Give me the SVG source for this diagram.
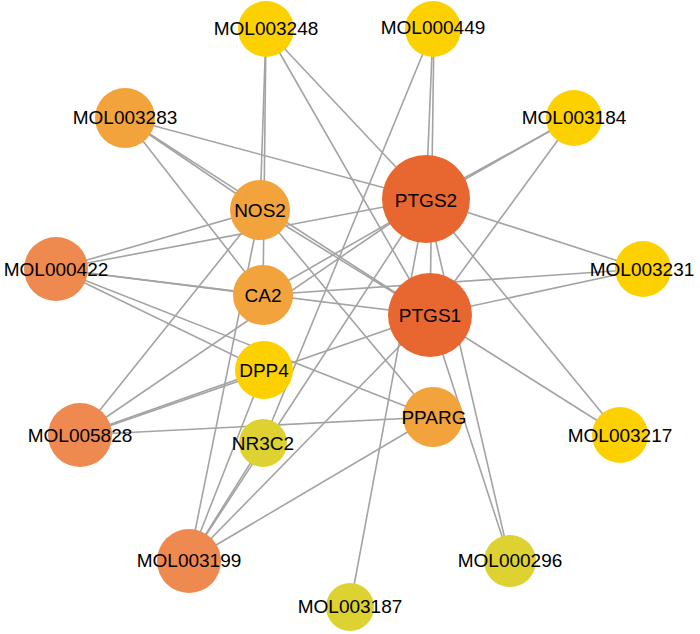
<svg xmlns="http://www.w3.org/2000/svg" width="700" height="634" viewBox="0 0 700 634">
<style>
.e{stroke:#a3a3a3;stroke-width:1.6;fill:none}
text{font-family:"Liberation Sans",Arial,sans-serif;font-size:19px;fill:#000;text-anchor:middle;dominant-baseline:central}
.c1{fill:#e8662f}.c2{fill:#ee8950}.c3{fill:#f3a33c}.c4{fill:#fdd100}.c5{fill:#ddd232}
</style>
<rect width="700" height="634" fill="#fff"/>
<g id="edges">
<line class="e" x1="266" y1="29" x2="260" y2="210"/>
<line class="e" x1="266" y1="29" x2="263" y2="295"/>
<line class="e" x1="266" y1="29" x2="426" y2="199"/>
<line class="e" x1="266" y1="29" x2="430" y2="315"/>
<line class="e" x1="433" y1="29" x2="426" y2="199"/>
<line class="e" x1="434" y1="29" x2="430" y2="315"/>
<line class="e" x1="433" y1="29" x2="263" y2="443"/>
<line class="e" x1="125" y1="118" x2="426" y2="199"/>
<line class="e" x1="125" y1="118" x2="260" y2="210"/>
<line class="e" x1="125" y1="118" x2="263" y2="295"/>
<line class="e" x1="125" y1="118" x2="430" y2="315"/>
<line class="e" x1="574" y1="118" x2="426" y2="199"/>
<line class="e" x1="574" y1="117" x2="263" y2="295"/>
<line class="e" x1="574" y1="118" x2="430" y2="315"/>
<line class="e" x1="643" y1="269" x2="426" y2="199"/>
<line class="e" x1="643" y1="269" x2="430" y2="315"/>
<line class="e" x1="643" y1="269" x2="263" y2="295"/>
<line class="e" x1="620" y1="435" x2="426" y2="199"/>
<line class="e" x1="620" y1="435" x2="430" y2="315"/>
<line class="e" x1="510" y1="561" x2="426" y2="199"/>
<line class="e" x1="510" y1="561" x2="430" y2="315"/>
<line class="e" x1="350" y1="607" x2="426" y2="199"/>
<line class="e" x1="56" y1="269" x2="260" y2="210"/>
<line class="e" x1="56" y1="269" x2="426" y2="199"/>
<line class="e" x1="56" y1="269" x2="263" y2="295"/>
<line class="e" x1="56" y1="269" x2="264" y2="370"/>
<line class="e" x1="56" y1="269" x2="433" y2="417"/>
<line class="e" x1="56" y1="269" x2="430" y2="315"/>
<line class="e" x1="80" y1="435" x2="260" y2="210"/>
<line class="e" x1="80" y1="435" x2="426" y2="199"/>
<line class="e" x1="80" y1="435" x2="264" y2="370"/>
<line class="e" x1="80" y1="436" x2="430" y2="315"/>
<line class="e" x1="80" y1="435" x2="433" y2="417"/>
<line class="e" x1="189" y1="561" x2="260" y2="210"/>
<line class="e" x1="189" y1="561" x2="264" y2="370"/>
<line class="e" x1="189" y1="561" x2="263" y2="443"/>
<line class="e" x1="189" y1="561" x2="426" y2="199"/>
<line class="e" x1="189" y1="561" x2="430" y2="315"/>
<line class="e" x1="189" y1="561" x2="433" y2="417"/>
<line class="e" x1="260" y1="210" x2="433" y2="417"/>
<line class="e" x1="260" y1="210" x2="430" y2="315"/>
</g>
<g id="n_MOL003248"><circle class="c4" cx="266" cy="29" r="28"/><text x="266" y="28">MOL003248</text></g>
<g id="n_MOL000449"><circle class="c4" cx="433" cy="29" r="28"/><text x="433" y="27">MOL000449</text></g>
<g id="n_MOL003283"><circle class="c3" cx="125" cy="118" r="30"/><text x="125" y="117">MOL003283</text></g>
<g id="n_MOL003184"><circle class="c4" cx="574" cy="118" r="28"/><text x="574" y="117">MOL003184</text></g>
<g id="n_NOS2"><circle class="c3" cx="260" cy="210" r="30"/><text x="260" y="210">NOS2</text></g>
<g id="n_PTGS2"><circle class="c1" cx="426" cy="199" r="44"/><text x="426" y="200">PTGS2</text></g>
<g id="n_MOL000422"><circle class="c2" cx="56" cy="269" r="32"/><text x="56" y="269">MOL000422</text></g>
<g id="n_CA2"><circle class="c3" cx="263" cy="295" r="30"/><text x="263" y="295">CA2</text></g>
<g id="n_MOL003231"><circle class="c4" cx="643" cy="269" r="28"/><text x="642" y="269">MOL003231</text></g>
<g id="n_PTGS1"><circle class="c1" cx="430" cy="315" r="42"/><text x="430" y="315">PTGS1</text></g>
<g id="n_DPP4"><circle class="c4" cx="264" cy="370" r="29"/><text x="264" y="370">DPP4</text></g>
<g id="n_PPARG"><circle class="c3" cx="433" cy="417" r="30"/><text x="434" y="417">PPARG</text></g>
<g id="n_MOL005828"><circle class="c2" cx="80" cy="435" r="32"/><text x="80" y="435">MOL005828</text></g>
<g id="n_NR3C2"><circle class="c5" cx="263" cy="443" r="24"/><text x="263" y="443">NR3C2</text></g>
<g id="n_MOL003217"><circle class="c4" cx="620" cy="435" r="28"/><text x="620" y="435">MOL003217</text></g>
<g id="n_MOL003199"><circle class="c2" cx="189" cy="561" r="32"/><text x="189" y="560">MOL003199</text></g>
<g id="n_MOL000296"><circle class="c5" cx="510" cy="561" r="26"/><text x="510" y="560">MOL000296</text></g>
<g id="n_MOL003187"><circle class="c5" cx="350" cy="607" r="24"/><text x="350" y="606">MOL003187</text></g>
</svg>
